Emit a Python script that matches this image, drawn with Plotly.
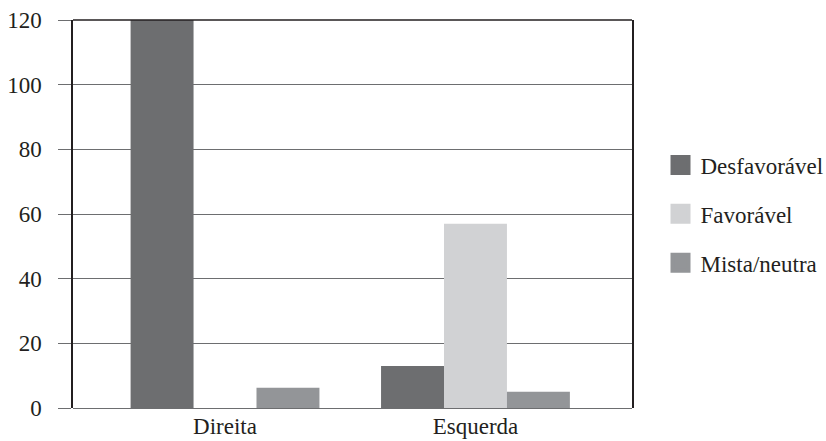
import plotly.graph_objects as go

categories = ["Direita", "Esquerda"]
series_names = ["Desfavorável", "Favorável", "Mista/neutra"]
desfavoravel = [120, 13]
favoravel = [0, 57]
mista = [6.3, 5]
y_ticks = [0, 20, 40, 60, 80, 100, 120]

colors = ["#6d6e70", "#d1d2d4", "#939598"]
values = [desfavoravel, favoravel, mista]

FONT = "Liberation Serif, Times New Roman, serif"
fig = go.Figure()
for name, vals, col in zip(series_names, values, colors):
    fig.add_trace(go.Bar(x=categories, y=vals, name=name, marker_color=col,
                         marker_line_width=0, showlegend=False))
for name, col in zip(series_names, colors):
    fig.add_trace(go.Scatter(x=[None], y=[None], mode="markers", name=name,
                             legendgroup=name,
                             marker=dict(symbol="square", size=16, color=col,
                                         line=dict(color=col, width=4))))

fig.update_layout(
    width=826, height=441,
    margin=dict(l=73, r=194, t=20, b=33, autoexpand=False),
    paper_bgcolor="white", plot_bgcolor="white",
    barmode="group", bargap=0.246, bargroupgap=0,
    font=dict(family=FONT, size=23, color="#231f20"),
    legend=dict(x=1.051, xanchor="left", y=0.5, yanchor="middle",
                tracegroupgap=16, font=dict(size=23, family=FONT)),
    xaxis=dict(type="category", range=[-0.607, 1.625], showgrid=False,
               showline=False, ticks="", zeroline=False, automargin=False,
               tickfont=dict(size=23, family=FONT), ticklabelstandoff=2),
    yaxis=dict(range=[0, 120], tickvals=y_ticks, showgrid=True,
               gridcolor="#6d6e70", gridwidth=1.2, zeroline=True,
               zerolinecolor="#6d6e70", zerolinewidth=1.2, automargin=False,
               showline=True, mirror=True, linecolor="#231f20", linewidth=1.5,
               ticks="outside", ticklen=13, tickcolor="#6d6e70", tickwidth=1.2,
               tickfont=dict(size=23, family=FONT), ticklabelstandoff=12),
    shapes=[dict(type="line", xref="paper", yref="paper", x0=0, x1=1, y0=1, y1=1,
                 line=dict(color="#231f20", width=1.5))],
)
fig.write_html("out.html", config={"displayModeBar": False},
               post_script="document.body.style.margin='0px';")
